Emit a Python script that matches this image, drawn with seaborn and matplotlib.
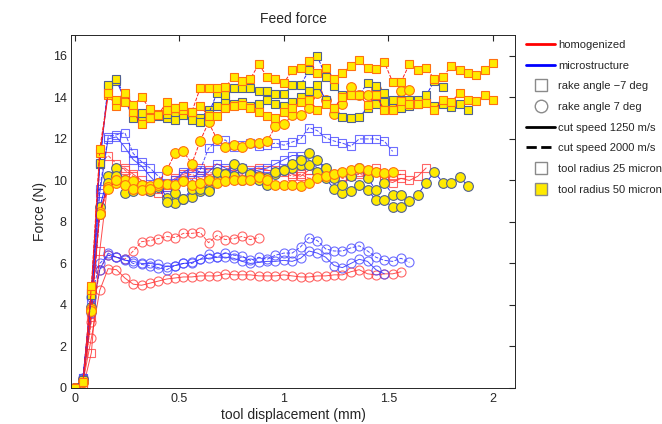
import numpy as np
import matplotlib
matplotlib.use("Agg")
import matplotlib.pyplot as plt
import seaborn as sns
from matplotlib.lines import Line2D

# Feed force curves, sampled every 0.04 mm of tool displacement
step = 0.04

# homogenized, rake 7, 25 micron
hom_c7_r25_v1250 = [0, 0.3, 2.4, 4.7, 5.75, 5.7, 5.3, 5.0, 4.95, 5.05, 5.15, 5.25, 5.3, 5.35, 5.35, 5.4,
                    5.4, 5.4, 5.5, 5.45, 5.45, 5.45, 5.4, 5.4, 5.4, 5.45, 5.4, 5.35, 5.35, 5.4, 5.4,
                    5.45, 5.45, 5.6, 5.7, 5.5, 5.45, 5.5, 5.5, 5.6]
hom_c7_r25_v2000 = [0, 0.5, 3.2, 5.7, 6.4, 6.3, 6.2, 6.6, 7.05, 7.1, 7.2, 7.3, 7.25, 7.45, 7.45, 7.5,
                    7.0, 7.35, 7.15, 7.2, 7.3, 7.15, 7.25]
# microstructure, rake 7, 25 micron
mic_c7_r25_v1250 = [0, 0.4, 3.6, 5.7, 6.5, 6.3, 6.15, 6.1, 6.0, 6.0, 5.95, 5.85, 5.9, 6.0, 6.05, 6.2,
                    6.25, 6.3, 6.3, 6.25, 6.1, 6.0, 6.05, 6.1, 6.1, 6.15, 6.1, 6.25, 6.6, 6.5, 6.3,
                    5.9, 5.8, 6.0, 6.2, 6.1, 5.7, 5.5]
mic_c7_r25_v2000 = [0, 0.5, 4.4, 6.0, 6.4, 6.3, 6.2, 6.0, 5.95, 5.9, 5.8, 5.7, 5.9, 6.0, 6.0, 6.2,
                    6.45, 6.3, 6.5, 6.4, 6.35, 6.15, 6.3, 6.2, 6.4, 6.5, 6.5, 6.8, 7.25, 7.1, 6.7,
                    6.6, 6.6, 6.75, 6.85, 6.6, 6.3, 6.15, 6.1, 6.25, 6.05]
# homogenized, rake -7, 25 micron
hom_s7_r25_v1250 = [0, 0, 1.7, 6.6, 10.0, 10.5, 10.6, 10.3, 10.0, 9.7, 9.6, 9.8, 10.1, 10.3, 10.4, 10.6,
                    10.5, 10.6, 10.5, 10.7, 10.4, 10.5, 10.6, 10.5, 10.4, 10.5, 10.3, 10.2, 10.5, 10.4,
                    10.5, 10.3, 10.2, 10.3, 10.4, 10.3, 10.6, 10.0, 9.9, 10.1, 10.0, 10.2, 10.6]
hom_s7_r25_v2000 = [0, 0.2, 3.4, 10.8, 11.2, 10.8, 10.5, 10.2, 9.8, 9.5, 9.4, 9.7, 10.0, 10.2, 10.3,
                    10.1, 10.4, 10.3, 10.2, 10.4, 10.3, 10.2, 10.4, 10.3, 10.5, 10.4, 10.2, 10.3,
                    10.1, 10.2, 10.4, 10.3, 10.1, 10.2, 10.3, 10.2, 10.4, 10.1, 10.2, 10.3]
# microstructure, rake -7, 25 micron
mic_s7_r25_v1250 = [0, 0.5, 4.3, 9.4, 12.0, 12.1, 11.6, 11.0, 10.7, 10.2, 9.8, 9.7, 10.0, 10.4, 10.6,
                    10.4, 10.4, 10.8, 10.6, 10.4, 10.6, 10.4, 10.5, 10.6, 10.8, 11.0, 11.2, 11.2,
                    11.0, 10.6, 10.5]
mic_s7_r25_v2000 = [0, 0.5, 4.6, 9.6, 12.1, 12.2, 12.3, 11.3, 10.9, 10.6, 10.2, 9.9, 9.9, 10.2, 10.0,
                    10.5, 11.55, 11.9, 11.95, 11.6, 11.7, 11.8, 11.65, 11.7, 11.8, 11.7, 11.85, 12.0,
                    12.55, 12.4, 12.05, 11.9, 11.8, 11.65, 12.0, 12.0, 12.0, 11.9, 11.4]
# homogenized, rake 7, 50 micron
hom_c7_r50_v1250 = [0, 0.3, 3.8, 8.5, 9.7, 9.9, 10.0, 9.95, 9.8, 9.75, 9.8, 9.85, 9.8, 9.95, 9.8, 9.9,
                    10.0, 9.9, 9.95, 10.0, 10.0, 10.0, 10.15, 10.0, 9.8, 9.8, 9.8, 9.75, 9.9, 10.1,
                    10.2, 10.3, 10.4, 10.5, 10.6, 10.5, 10.4, 10.35, 10.4]
hom_c7_r50_v2000 = [0, 0.3, 3.7, 8.4, 9.6, 10.0, 9.8, 9.6, 9.55, 9.6, 9.9, 10.5, 11.3, 11.4, 10.8, 11.9,
                    12.8, 12.0, 11.6, 11.7, 11.6, 11.8, 11.8, 11.9, 12.6, 12.7, 13.15, 13.15, 13.5,
                    14.2, 13.9, 13.2, 13.7, 14.5, 14.1, 14.1, 14.4, 13.6, 13.6, 14.3, 14.35]
# microstructure, rake 7, 50 micron
mic_c7_r50_v1250 = [0, 0.4, 3.9, 8.7, 10.2, 10.6, 10.0, 9.7, 9.6, 9.7, 9.9, 9.15, 8.9, 9.1, 9.2, 9.5,
                    9.6, 10.0, 10.3, 10.2, 10.0, 10.2, 10.0, 9.8, 10.3, 10.5, 10.6, 10.75, 10.75, 10.4,
                    10.1, 9.6, 9.4, 9.5, 9.8, 9.55, 9.05, 9.05, 8.7, 8.7, 9.0, 9.3, 9.9, 10.4, 9.9,
                    9.9, 10.15, 9.75]
mic_c7_r50_v2000 = [0, 0.4, 3.7, 8.4, 9.9, 10.2, 9.4, 9.5, 9.8, 9.5, 9.7, 8.95, 9.4, 9.1, 9.6, 9.6,
                    9.5, 10.4, 10.3, 10.8, 10.6, 10.3, 10.2, 10.1, 10.4, 10.5, 10.8, 11.0, 11.3, 11.0,
                    10.6, 10.1, 9.8, 10.2, 10.6, 10.1, 9.55, 9.9, 9.3, 9.3]
# homogenized, rake -7, 50 micron
hom_s7_r50_v1250 = [0, 0.3, 4.7, 11.3, 14.1, 13.6, 13.8, 13.3, 12.7, 13.0, 13.2, 13.4, 13.5, 13.4, 13.3,
                    13.6, 13.1, 13.1, 13.5, 13.6, 13.65, 13.5, 13.3, 13.1, 13.0, 13.3, 13.5, 13.8,
                    13.9, 13.4, 13.7, 13.5, 14.0, 14.1, 14.1, 13.65, 14.1, 13.4, 13.4, 13.85, 13.7,
                    13.7, 13.75, 13.4, 13.9, 13.8, 14.2, 13.9, 13.85, 14.1, 13.9]
hom_s7_r50_v2000 = [0, 0.3, 4.9, 11.5, 14.2, 13.9, 14.2, 13.65, 14.0, 13.45, 13.15, 13.8, 13.5, 13.6,
                    13.3, 14.45, 14.45, 14.45, 14.5, 15.0, 14.8, 14.9, 15.6, 15.0, 14.9, 14.7, 15.3,
                    15.4, 15.75, 15.2, 15.4, 14.9, 15.2, 15.5, 15.8, 15.4, 15.35, 15.7, 14.75, 14.75,
                    15.6, 15.3, 15.4, 14.9, 15.0, 15.5, 15.3, 15.2, 15.1, 15.3, 15.65]
# microstructure, rake -7, 50 micron
mic_s7_r50_v1250 = [0, 0.4, 4.6, 10.8, 14.5, 14.8, 13.9, 13.0, 12.9, 13.0, 13.1, 13.0, 13.1, 13.2, 13.1,
                    13.0, 13.4, 13.6, 13.9, 13.7, 13.8, 13.6, 13.7, 13.9, 13.7, 13.6, 13.8, 14.0,
                    14.3, 14.6, 13.9, 13.5, 13.05, 13.0, 13.05, 13.5, 13.7, 13.8, 13.6, 13.5, 13.6,
                    13.7, 13.8, 13.6, 13.7, 13.55, 13.7, 13.4]
mic_s7_r50_v2000 = [0, 0.4, 4.5, 10.85, 14.6, 14.9, 14.0, 13.3, 13.25, 13.1, 13.15, 13.2, 12.9, 13.15,
                    12.9, 12.8, 13.2, 14.2, 14.1, 14.45, 14.45, 14.45, 14.3, 14.3, 14.15, 14.15, 14.6,
                    14.6, 15.3, 16.0, 15.0, 14.55, 14.1, 14.1, 14.1, 14.7, 14.55, 14.2, 13.9, 13.9,
                    13.9, 13.9, 14.1, 14.8, 14.5]

# (values, material, rake, speed, radius)
curves = [
    (hom_c7_r25_v1250, "hom", 7, 1250, 25),
    (hom_c7_r25_v2000, "hom", 7, 2000, 25),
    (mic_c7_r25_v1250, "mic", 7, 1250, 25),
    (mic_c7_r25_v2000, "mic", 7, 2000, 25),
    (hom_s7_r25_v1250, "hom", -7, 1250, 25),
    (hom_s7_r25_v2000, "hom", -7, 2000, 25),
    (mic_s7_r25_v1250, "mic", -7, 1250, 25),
    (mic_s7_r25_v2000, "mic", -7, 2000, 25),
    (mic_c7_r50_v1250, "mic", 7, 1250, 50),
    (mic_c7_r50_v2000, "mic", 7, 2000, 50),
    (hom_c7_r50_v1250, "hom", 7, 1250, 50),
    (hom_c7_r50_v2000, "hom", 7, 2000, 50),
    (mic_s7_r50_v1250, "mic", -7, 1250, 50),
    (mic_s7_r50_v2000, "mic", -7, 2000, 50),
    (hom_s7_r50_v1250, "hom", -7, 1250, 50),
    (hom_s7_r50_v2000, "hom", -7, 2000, 50),
]

sns.set_style("white")
plt.rcParams["font.family"] = ["Liberation Sans", "DejaVu Sans"]
plt.rcParams["font.size"] = 9

fig = plt.figure(figsize=(6.62, 4.24), dpi=100)
ax = fig.add_axes([0.108, 0.085, 0.67, 0.832])

line_col = {"hom": "#ff2020", "mic": "#2020ff"}
open_edge = {"hom": "#ff4040", "mic": "#4a4aff"}
fill_edge = {"hom": "#ff7010", "mic": "#506090"}

for vals, mat, rake, speed, radius in curves:
    x = np.arange(len(vals)) * step
    marker = "s" if rake == -7 else "o"
    ls = "-" if speed == 1250 else "--"
    if radius == 25:
        mfc, mec = "none", open_edge[mat]
        ms = 5.8 if marker == "s" else 6.5
        alpha = 0.8
    else:
        mfc, mec = "#ffea00", fill_edge[mat]
        ms = 5.8 if marker == "s" else 7
        alpha = 1.0
    sns.lineplot(x=x, y=vals, ax=ax, color=line_col[mat], linestyle=ls, linewidth=0.7,
                 marker=marker, markersize=ms, markerfacecolor=mfc, markeredgecolor=mec,
                 markeredgewidth=0.8, alpha=alpha, sort=False, estimator=None, legend=False)

ax.set_xlim(-0.015, 2.105)
ax.set_ylim(0, 17)
ax.set_xticks([0, 0.5, 1, 1.5, 2])
ax.set_xticklabels(["0", "0.5", "1", "1.5", "2"])
ax.set_yticks(range(0, 17, 2))
ax.tick_params(direction="in", length=4, top=True, right=True, labelsize=9, colors="#262626")
for s in ax.spines.values():
    s.set_color("#262626")
    s.set_linewidth(0.7)
ax.set_title("Feed force", fontsize=10, pad=9)
ax.set_xlabel("tool displacement (mm)", fontsize=10, labelpad=2)
ax.set_ylabel("Force (N)", fontsize=10, labelpad=4)

handles = [
    Line2D([], [], color="red", lw=2),
    Line2D([], [], color="blue", lw=2),
    Line2D([], [], ls="none", marker="s", ms=8, mfc="none", mec="#8a8a8a"),
    Line2D([], [], ls="none", marker="o", ms=9, mfc="none", mec="#8a8a8a"),
    Line2D([], [], color="black", lw=2),
    Line2D([], [], color="black", lw=2, ls="--"),
    Line2D([], [], ls="none", marker="s", ms=8, mfc="none", mec="#8a8a8a"),
    Line2D([], [], ls="none", marker="s", ms=8, mfc="#ffea00", mec="#8a8a8a"),
]
labels = ["homogenized", "microstructure", "rake angle \u22127 deg", "rake angle 7 deg",
          "cut speed 1250 m/s", "cut speed 2000 m/s", "tool radius 25 micron", "tool radius 50 micron"]
fig.legend(handles, labels, loc="upper left", bbox_to_anchor=(0.795, 0.906), frameon=False,
           fontsize=8, handlelength=2.6, handletextpad=0.25, labelspacing=0.96, borderaxespad=0,
           borderpad=0)

fig.savefig("out.png", dpi=100)
